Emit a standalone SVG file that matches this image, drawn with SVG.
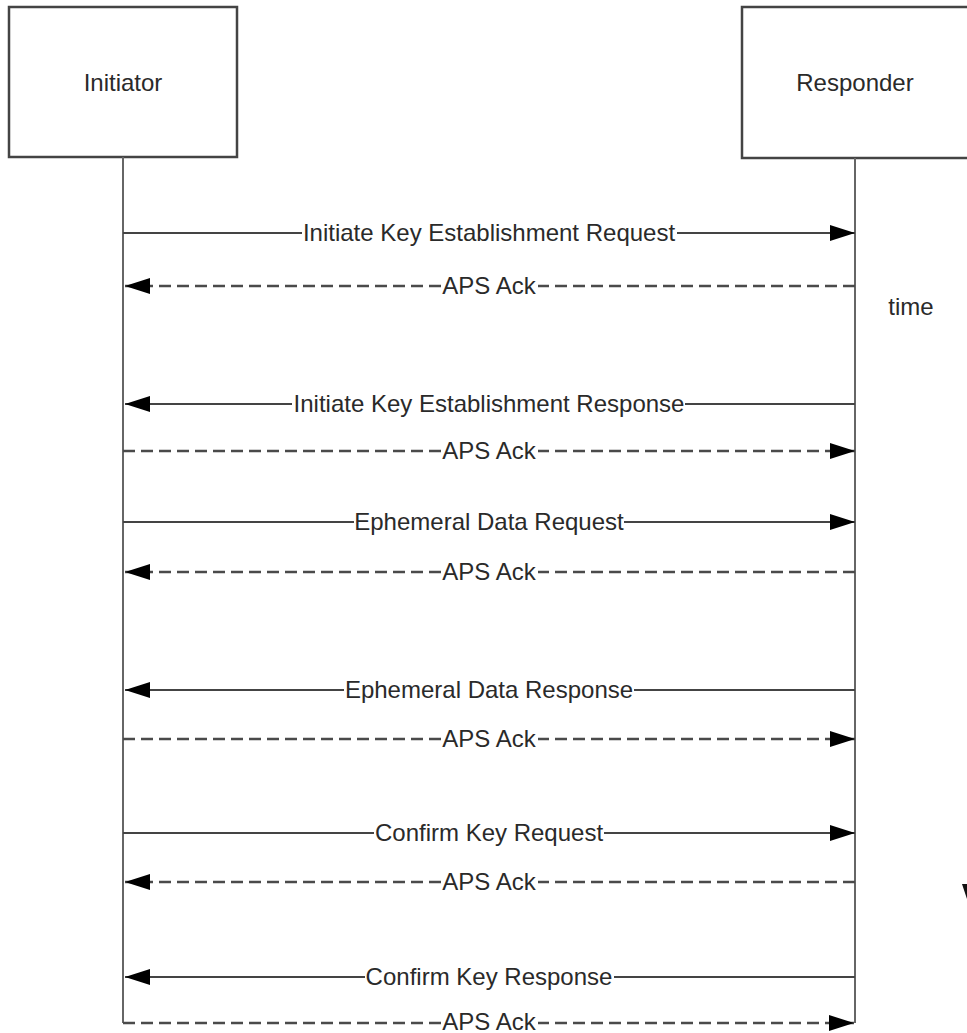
<svg xmlns="http://www.w3.org/2000/svg" width="967" height="1033" viewBox="0 0 967 1033">
<style>
.box{fill:#fff;stroke:#444;stroke-width:2.5}
.life{stroke:#666;stroke-width:2;fill:none}
.msg{stroke:#444;stroke-width:2;fill:none}
.dash{stroke:#4a4a4a;stroke-width:2.6;fill:none;stroke-dasharray:12 6}
.lbl{font-family:"Liberation Sans",Arial,sans-serif;font-size:24px;fill:#2a2a2a;text-anchor:middle}
.bg{fill:#fff}
</style>
<defs>
<marker id="ah" markerUnits="userSpaceOnUse" markerWidth="26" markerHeight="18" refX="25" refY="9" orient="auto">
<path d="M0,1 L25,9 L0,17 Z" fill="#000"/>
</marker>
</defs>
<g id="initiator">
<rect class="box" x="9" y="7" width="228" height="150"/>
<text class="lbl" x="123" y="91">Initiator</text>
</g>
<g id="responder">
<rect class="box" x="742" y="7" width="240" height="151"/>
<text class="lbl" x="855" y="91">Responder</text>
</g>
<g id="time-label">
<text class="lbl" x="911" y="315">time</text>
<polygon points="962,884 967,884 967,899" fill="#111"/>
</g>
<g id="connectors">
<line class="life" x1="123" y1="157" x2="123" y2="1023"/>
<line class="life" x1="855" y1="158" x2="855" y2="1023"/>
<line class="msg" x1="123" y1="233" x2="855" y2="233" marker-end="url(#ah)"/>
<line class="dash" x1="855" y1="286" x2="125" y2="286" marker-end="url(#ah)"/>
<line class="msg" x1="855" y1="404" x2="125" y2="404" marker-end="url(#ah)"/>
<line class="dash" x1="123" y1="451" x2="855" y2="451" marker-end="url(#ah)"/>
<line class="msg" x1="123" y1="522" x2="855" y2="522" marker-end="url(#ah)"/>
<line class="dash" x1="855" y1="572" x2="125" y2="572" marker-end="url(#ah)"/>
<line class="msg" x1="855" y1="690" x2="125" y2="690" marker-end="url(#ah)"/>
<line class="dash" x1="123" y1="739" x2="855" y2="739" marker-end="url(#ah)"/>
<line class="msg" x1="123" y1="833" x2="855" y2="833" marker-end="url(#ah)"/>
<line class="dash" x1="855" y1="882" x2="125" y2="882" marker-end="url(#ah)"/>
<line class="msg" x1="855" y1="977" x2="125" y2="977" marker-end="url(#ah)"/>
<line class="dash" x1="123" y1="1023" x2="854" y2="1023" marker-end="url(#ah)"/>
</g>
<g id="labels">
<rect class="bg" x="302" y="228" width="375" height="10"/>
<text class="lbl" x="489" y="241">Initiate Key Establishment Request</text>
<rect class="bg" x="441" y="281" width="97" height="10"/>
<text class="lbl" x="489" y="294">APS Ack</text>
<rect class="bg" x="292" y="399" width="393" height="10"/>
<text class="lbl" x="489" y="412">Initiate Key Establishment Response</text>
<rect class="bg" x="441" y="446" width="97" height="10"/>
<text class="lbl" x="489" y="459">APS Ack</text>
<rect class="bg" x="354" y="517" width="270" height="10"/>
<text class="lbl" x="489" y="530">Ephemeral Data Request</text>
<rect class="bg" x="441" y="567" width="97" height="10"/>
<text class="lbl" x="489" y="580">APS Ack</text>
<rect class="bg" x="344" y="685" width="290" height="10"/>
<text class="lbl" x="489" y="698">Ephemeral Data Response</text>
<rect class="bg" x="441" y="734" width="97" height="10"/>
<text class="lbl" x="489" y="747">APS Ack</text>
<rect class="bg" x="374" y="828" width="230" height="10"/>
<text class="lbl" x="489" y="841">Confirm Key Request</text>
<rect class="bg" x="441" y="877" width="97" height="10"/>
<text class="lbl" x="489" y="890">APS Ack</text>
<rect class="bg" x="365" y="972" width="249" height="10"/>
<text class="lbl" x="489" y="985">Confirm Key Response</text>
<rect class="bg" x="441" y="1018" width="97" height="10"/>
<text class="lbl" x="489" y="1030">APS Ack</text>
</g>
</svg>
